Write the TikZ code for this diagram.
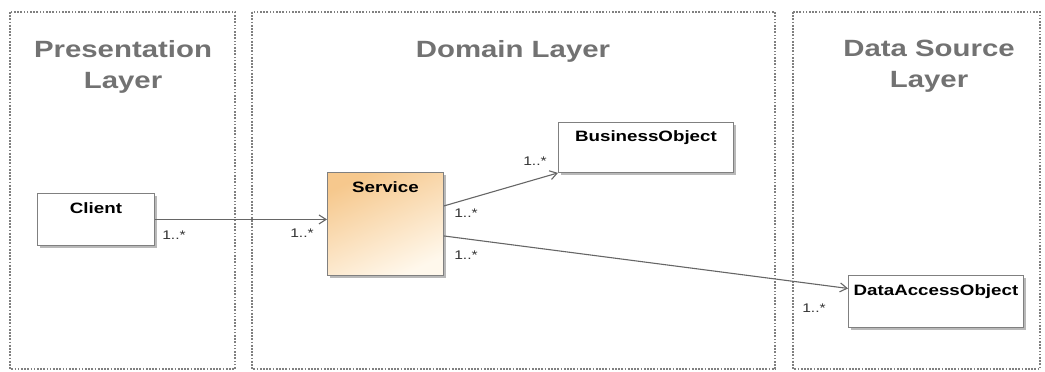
\documentclass[tikz,border=0pt]{standalone}
\usepackage{fontspec}
\setmainfont{Liberation Sans}
\usepackage{graphicx}
\usetikzlibrary{arrows.meta,shadows}

\definecolor{framegray}{HTML}{808080}
\definecolor{titlegray}{HTML}{727272}
\definecolor{linegray}{HTML}{666666}
\definecolor{servicetop}{HTML}{F6C88D}
\definecolor{servicebot}{HTML}{FFF8EC}

\newcommand{\wide}[1]{\scalebox{1.25}[1]{#1}}

\tikzset{
  layerframe/.style={draw=framegray, line width=1.9pt, dash pattern=on 1.7pt off 1.5pt},
  layertitle/.style={text=titlegray, font=\fontsize{23.5}{31}\selectfont\bfseries, align=center, anchor=north, inner sep=0pt},
  classbox/.style={draw=framegray, line width=0.9pt, fill=white, anchor=north west, inner sep=0pt,
    drop shadow={shadow xshift=2.5pt, shadow yshift=-2.5pt, fill=gray!55, opacity=1}},
  classtitle/.style={font=\fontsize{15}{18}\selectfont\bfseries, anchor=north, inner sep=0pt},
  mult/.style={font=\fontsize{12.5}{14}\selectfont, text=black!80},
  assoc/.style={draw=linegray, line width=1.1pt, -{Straight Barb[length=7pt,width=9pt]}},
}

\begin{document}
\begin{tikzpicture}[x=1pt,y=-1pt]
\useasboundingbox (0,0) rectangle (1045,372);

% layers
\draw[layerframe] (10,12) rectangle (235,369);
\draw[layerframe] (252,12) rectangle (775,369);
\draw[layerframe] (793,12) rectangle (1040,369);

\node[layertitle] (presTitle) at (123,40) {\wide{Presentation}\\\wide{Layer}};
\node[layertitle] (domainTitle) at (513,40) {\wide{Domain Layer}};
\node[layertitle] (dataTitle) at (929,40) {\wide{Data Source}\\\wide{Layer}};

% classes
\node[classbox, minimum width=117pt, minimum height=52pt] (client) at (37,193) {};
\node[classbox, minimum width=116pt, minimum height=103pt, top color=servicetop, bottom color=servicebot, shading angle=25] (service) at (327,172) {};
\node[classbox, minimum width=175pt, minimum height=50pt] (business) at (558,122) {};
\node[classbox, minimum width=175pt, minimum height=52pt] (dao) at (848,275) {};

\node[classtitle] (clientTitle) at ([yshift=-9pt]client.north) {\wide{Client}};
\node[classtitle] (serviceTitle) at ([yshift=-9pt]service.north) {\wide{Service}};
\node[classtitle] (businessTitle) at ([yshift=-8pt]business.north) {\wide{BusinessObject}};
\node[classtitle] (daoTitle) at ([yshift=-9pt]dao.north) {\wide{DataAccessObject}};

% associations
\draw[assoc] (client.east) -- (client.east -| service.west);
\draw[assoc] ([yshift=18pt]service.east) -- (business.south west);
\draw[assoc] ([yshift=-12pt]service.east) -- ([yshift=13pt]dao.west);

% multiplicities
\node[mult] (multClient) at (174,235) {\wide{1..*}};
\node[mult] (multServiceIn) at (302,233) {\wide{1..*}};
\node[mult] (multServiceUp) at (466,213) {\wide{1..*}};
\node[mult] (multBusiness) at (535,161) {\wide{1..*}};
\node[mult] (multServiceDown) at (466,255) {\wide{1..*}};
\node[mult] (multDao) at (814,308) {\wide{1..*}};

\end{tikzpicture}
\end{document}
